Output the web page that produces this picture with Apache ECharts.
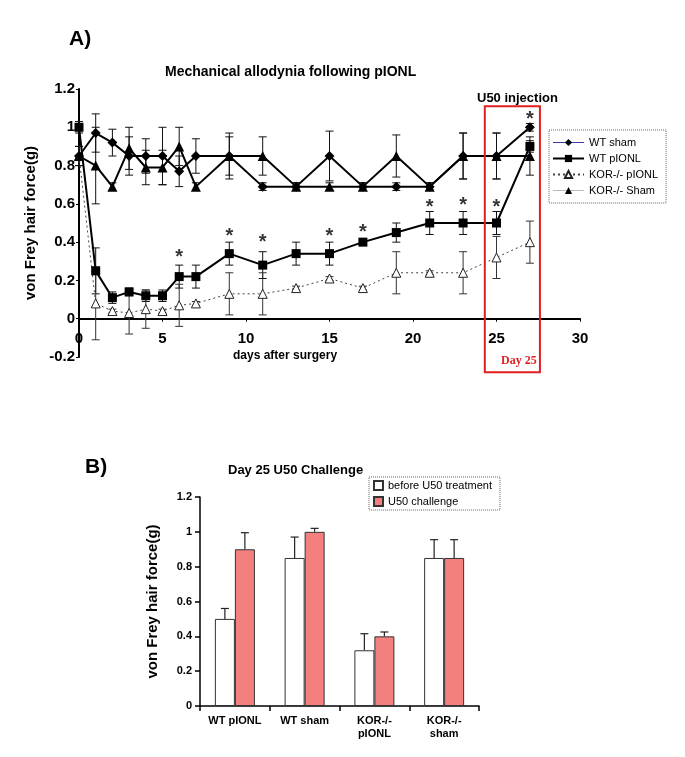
<!DOCTYPE html>
<html>
<head>
<meta charset="utf-8">
<script src="https://cdn.jsdelivr.net/npm/echarts@6/dist/echarts.min.js"></script>
<style>
  html, body { margin: 0; padding: 0; background: #fff; }
  #chart { width: 685px; height: 757px; }
</style>
</head>
<body>
<div id="chart"></div>
<script>
// A) 时间序列
const days = [0, 1, 2, 3, 4, 5, 6, 7, 9, 11, 13, 15, 17, 19, 21, 23, 25, 27];
const wtSham = [0.85, 0.97, 0.92, 0.85, 0.85, 0.85, 0.77, 0.85, 0.85, 0.69, 0.69, 0.85, 0.69, 0.69, 0.69, 0.85, 0.85, 1.0];
const wtShamErr = [0.05, 0.1, 0.07, 0.1, 0.09, 0.15, 0.08, 0.09, 0.1, 0.02, 0.02, 0.13, 0.02, 0.02, 0.02, 0.12, 0.12, 0.02];
const wtPionl = [1.0, 0.25, 0.11, 0.14, 0.12, 0.12, 0.22, 0.22, 0.34, 0.28, 0.34, 0.34, 0.40, 0.45, 0.50, 0.50, 0.50, 0.90];
const wtPionlErr = [0.03, 0.12, 0.03, 0.02, 0.03, 0.03, 0.06, 0.06, 0.06, 0.07, 0.06, 0.06, 0.01, 0.05, 0.06, 0.06, 0.06, 0.03];
const korPionl = [0.85, 0.08, 0.04, 0.03, 0.05, 0.04, 0.07, 0.08, 0.13, 0.13, 0.16, 0.21, 0.16, 0.24, 0.24, 0.24, 0.32, 0.40];
const korPionlErr = [0.05, 0.19, 0.01, 0.11, 0.1, 0.01, 0.11, 0.01, 0.11, 0.11, 0.01, 0.01, 0.01, 0.11, 0.01, 0.11, 0.11, 0.11];
const korSham = [0.85, 0.80, 0.69, 0.89, 0.79, 0.79, 0.90, 0.69, 0.85, 0.85, 0.69, 0.69, 0.69, 0.85, 0.69, 0.85, 0.85, 0.85];
const korShamErr = [0.05, 0.2, 0.02, 0.11, 0.09, 0.09, 0.1, 0.02, 0.12, 0.1, 0.02, 0.02, 0.02, 0.11, 0.02, 0.12, 0.12, 0.1];
const starDays = [6, 9, 11, 15, 17, 21, 23, 25, 27];
const starVals = [0.34, 0.45, 0.42, 0.45, 0.47, 0.60, 0.61, 0.60, 1.06];

// B) Day 25 柱状图
const groups = ['WT pIONL', 'WT sham', 'KOR-/-\npIONL', 'KOR-/-\nsham'];
const before = [0.5, 0.85, 0.32, 0.85];
const beforeErr = [0.06, 0.12, 0.095, 0.105];
const u50 = [0.9, 1.0, 0.4, 0.85];
const u50Err = [0.095, 0.02, 0.025, 0.105];

const FONT = '"Liberation Sans", Arial, sans-serif';

const pairs = (ys) => days.map((d, i) => [d, ys[i]]);
const errData = (ys, es) => days.map((d, i) => [d, ys[i] - es[i], ys[i] + es[i]]);

// 误差线（上下都有）
function errSeries(ys, es, color) {
  return {
    type: 'custom', xAxisIndex: 0, yAxisIndex: 0, z: 1, silent: true,
    data: errData(ys, es),
    renderItem: function (params, api) {
      const lo = api.coord([api.value(0), api.value(1)]);
      const hi = api.coord([api.value(0), api.value(2)]);
      const w = 4;
      const st = { stroke: color, lineWidth: 1 };
      return {
        type: 'group',
        children: [
          { type: 'line', shape: { x1: lo[0], y1: lo[1], x2: hi[0], y2: hi[1] }, style: st },
          { type: 'line', shape: { x1: hi[0] - w, y1: hi[1], x2: hi[0] + w, y2: hi[1] }, style: st },
          { type: 'line', shape: { x1: lo[0] - w, y1: lo[1], x2: lo[0] + w, y2: lo[1] }, style: st }
        ]
      };
    }
  };
}

// 柱状图误差线（只有上半）
function barErrSeries(vals, errs, offset) {
  return {
    type: 'custom', xAxisIndex: 1, yAxisIndex: 1, z: 1, silent: true,
    data: vals.map((v, i) => [i, v, v + errs[i]]),
    renderItem: function (params, api) {
      const lo = api.coord([api.value(0), api.value(1)]);
      const hi = api.coord([api.value(0), api.value(2)]);
      const x = lo[0] + offset;
      const st = { stroke: '#222', lineWidth: 1.2 };
      return {
        type: 'group',
        children: [
          { type: 'line', shape: { x1: x, y1: lo[1], x2: x, y2: hi[1] }, style: st },
          { type: 'line', shape: { x1: x - 4, y1: hi[1], x2: x + 4, y2: hi[1] }, style: st }
        ]
      };
    }
  };
}

const chart = echarts.init(document.getElementById('chart'));

const option = {
  backgroundColor: '#fff',
  animation: false,
  textStyle: { fontFamily: FONT },
  title: [
    { text: 'A)', left: 64, top: 24, textStyle: { fontSize: 21, fontWeight: 'bold', color: '#000' } },
    { text: 'Mechanical allodynia following pIONL', left: 160, top: 60, textStyle: { fontSize: 14, fontWeight: 'bold', color: '#000' } },
    { text: 'U50 injection', left: 472, top: 87, textStyle: { fontSize: 13, fontWeight: 'bold', color: '#000' } },
    { text: 'days after surgery', left: 228, top: 345, textStyle: { fontSize: 12, fontWeight: 'bold', color: '#000' } },
    { text: 'Day 25', left: 496, top: 350, textStyle: { fontSize: 12, fontWeight: 'bold', color: '#e02020', fontFamily: '"Liberation Serif", "Times New Roman", serif' } },
    { text: 'B)', left: 80, top: 452, textStyle: { fontSize: 21, fontWeight: 'bold', color: '#000' } },
    { text: 'Day 25 U50 Challenge', left: 223, top: 459, textStyle: { fontSize: 13, fontWeight: 'bold', color: '#000' } }
  ],
  legend: [
    {
      orient: 'vertical', left: 549, top: 130, padding: [7, 8, 7, 3],
      itemWidth: 31, itemHeight: 9, itemGap: 5,
      borderColor: '#666', borderWidth: 1, borderType: 'dotted',
      textStyle: { fontSize: 11, color: '#000', fontFamily: FONT },
      data: [
        { name: 'WT sham', lineStyle: { color: '#3a3aa8', width: 1 } },
        { name: 'WT pIONL' },
        { name: 'KOR-/- pIONL' },
        { name: 'KOR-/- Sham', lineStyle: { color: '#bbb', width: 1 } }
      ]
    },
    {
      orient: 'vertical', left: 369, top: 477, padding: [3, 8, 3, 4],
      itemWidth: 9, itemHeight: 9, itemGap: 5,
      borderColor: '#666', borderWidth: 1, borderType: 'dotted',
      textStyle: { fontSize: 11, color: '#000', fontFamily: FONT },
      data: [
        { name: 'before U50 treatment', icon: 'rect' },
        { name: 'U50 challenge', icon: 'rect' }
      ]
    }
  ],
  grid: [
    { left: 79, top: 89, width: 501, height: 268 },
    { left: 200, top: 497, width: 279, height: 209 }
  ],
  xAxis: [
    {
      gridIndex: 0, type: 'value', min: 0, max: 30, interval: 5,
      axisLine: { onZero: true, lineStyle: { color: '#000', width: 2 } },
      axisTick: { show: true, length: 3, lineStyle: { color: '#000' } },
      axisLabel: { fontSize: 15, fontWeight: 'bold', color: '#000', margin: -26 },
      splitLine: { show: false }
    },
    {
      gridIndex: 1, type: 'category', data: groups,
      axisLine: { lineStyle: { color: '#000', width: 1.5 } },
      axisTick: { show: true, length: 5, lineStyle: { color: '#000', width: 1.5 } },
      axisLabel: { fontSize: 11, fontWeight: 'bold', color: '#000', lineHeight: 13, margin: 8 }
    }
  ],
  yAxis: [
    {
      gridIndex: 0, type: 'value', min: -0.2, max: 1.2, interval: 0.2,
      name: 'von Frey hair force(g)', nameLocation: 'middle', nameGap: 36,
      nameTextStyle: { fontSize: 15, fontWeight: 'bold', color: '#000' },
      axisLine: { show: true, onZero: false, lineStyle: { color: '#000', width: 2 } },
      axisTick: { show: true, length: 3, lineStyle: { color: '#000' } },
      axisLabel: { fontSize: 15, fontWeight: 'bold', color: '#000', margin: 4 },
      splitLine: { show: false }
    },
    {
      gridIndex: 1, type: 'value', min: 0, max: 1.2, interval: 0.2,
      name: 'von Frey hair force(g)', nameLocation: 'middle', nameGap: 40,
      nameTextStyle: { fontSize: 15, fontWeight: 'bold', color: '#000' },
      axisLine: { show: true, lineStyle: { color: '#000', width: 1.5 } },
      axisTick: { show: true, length: 5, lineStyle: { color: '#000', width: 1.5 } },
      axisLabel: { fontSize: 11, fontWeight: 'bold', color: '#000', margin: 8 },
      splitLine: { show: false }
    }
  ],
  series: [
    errSeries(wtSham, wtShamErr, '#111'),
    errSeries(wtPionl, wtPionlErr, '#111'),
    errSeries(korPionl, korPionlErr, '#333'),
    errSeries(korSham, korShamErr, '#111'),
    {
      name: 'KOR-/- pIONL', type: 'line', xAxisIndex: 0, yAxisIndex: 0, z: 2,
      data: pairs(korPionl),
      symbol: 'triangle', symbolSize: 9,
      lineStyle: { color: '#444', width: 1, type: [2, 3] },
      itemStyle: { color: '#fff', borderColor: '#222', borderWidth: 1 }
    },
    {
      name: 'WT pIONL', type: 'line', xAxisIndex: 0, yAxisIndex: 0, z: 3,
      data: pairs(wtPionl),
      symbol: 'rect', symbolSize: 9,
      lineStyle: { color: '#000', width: 2 },
      itemStyle: { color: '#000' }
    },
    {
      name: 'KOR-/- Sham', type: 'line', xAxisIndex: 0, yAxisIndex: 0, z: 3,
      data: pairs(korSham),
      symbol: 'triangle', symbolSize: 10,
      lineStyle: { color: '#000', width: 2 },
      itemStyle: { color: '#000' }
    },
    {
      name: 'WT sham', type: 'line', xAxisIndex: 0, yAxisIndex: 0, z: 3,
      data: pairs(wtSham),
      symbol: 'diamond', symbolSize: 10,
      lineStyle: { color: '#000', width: 2 },
      itemStyle: { color: '#000' }
    },
    {
      type: 'scatter', xAxisIndex: 0, yAxisIndex: 0, z: 4, silent: true,
      data: starDays.map((d, i) => [d, starVals[i]]),
      symbolSize: 1, itemStyle: { color: 'transparent' },
      label: { show: true, position: 'inside', formatter: '*', fontSize: 20, fontWeight: 'bold', color: '#000', offset: [0, 4] }
    },
    {
      name: 'before U50 treatment', type: 'bar', xAxisIndex: 1, yAxisIndex: 1,
      data: before, barWidth: 20, barGap: '0%', z: 2,
      itemStyle: { color: '#fff', borderColor: '#333', borderWidth: 1 }
    },
    {
      name: 'U50 challenge', type: 'bar', xAxisIndex: 1, yAxisIndex: 1,
      data: u50, barWidth: 20, barGap: '0%', z: 2,
      itemStyle: { color: '#f47f7f', borderColor: '#333', borderWidth: 1 }
    },
    barErrSeries(before, beforeErr, -10),
    barErrSeries(u50, u50Err, 10)
  ]
};

option && chart.setOption(option);

// Day 25 红框：用坐标轴换算位置
const p1 = chart.convertToPixel({ gridIndex: 0 }, [24.3, 1.11]);
const p2 = chart.convertToPixel({ gridIndex: 0 }, [27.6, -0.28]);
chart.setOption({
  graphic: [{
    type: 'rect', z: 10, silent: true,
    shape: { x: p1[0], y: p1[1], width: p2[0] - p1[0], height: p2[1] - p1[1] },
    style: { fill: 'none', stroke: '#e02020', lineWidth: 2 }
  }]
});
</script>
</body>
</html>
